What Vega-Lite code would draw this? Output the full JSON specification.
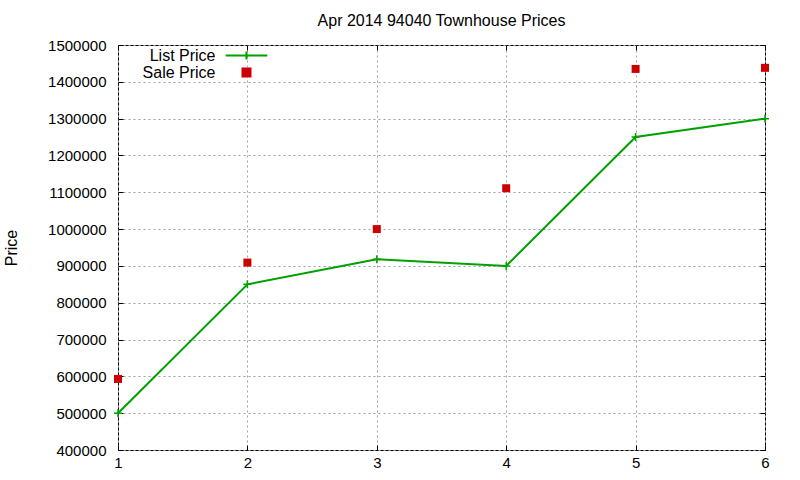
{
  "$schema": "https://vega.github.io/schema/vega-lite/v6.json",
  "description": "Apr 2014 94040 townhouse prices",
  "autosize": "none",
  "width": 647,
  "height": 405,
  "padding": {"left": 118, "top": 45, "right": 35, "bottom": 30},
  "title": {
    "text": "Apr 2014 94040 Townhouse Prices",
    "font": "Liberation Sans",
    "fontSize": 16,
    "fontWeight": "normal",
    "color": "black",
    "anchor": "middle",
    "offset": 9
  },
  "config": {
    "view": {"stroke": "black", "strokeWidth": 1},
    "axis": {
      "labelFont": "Liberation Sans",
      "labelFontSize": 15,
      "labelColor": "black",
      "labelFlush": false,
      "titleFont": "Liberation Sans",
      "titleFontSize": 16,
      "titleFontWeight": "normal",
      "titleColor": "black",
      "domain": false,
      "tickColor": "black",
      "tickSize": -5,
      "gridColor": "#a0a0a0",
      "gridDash": [2, 3],
      "gridWidth": 1
    }
  },
  "data": {
    "values": [
      {"x": 1, "price": 500000, "series": "List Price"},
      {"x": 2, "price": 850000, "series": "List Price"},
      {"x": 3, "price": 918000, "series": "List Price"},
      {"x": 4, "price": 900000, "series": "List Price"},
      {"x": 5, "price": 1250000, "series": "List Price"},
      {"x": 6, "price": 1300000, "series": "List Price"},
      {"x": 1, "price": 593000, "series": "Sale Price"},
      {"x": 2, "price": 909000, "series": "Sale Price"},
      {"x": 3, "price": 1000000, "series": "Sale Price"},
      {"x": 4, "price": 1111000, "series": "Sale Price"},
      {"x": 5, "price": 1435000, "series": "Sale Price"},
      {"x": 6, "price": 1438000, "series": "Sale Price"}
    ]
  },
  "layer": [
    {
      "transform": [{"filter": "datum.series == 'List Price'"}],
      "mark": {"type": "line", "color": "#00a000", "strokeWidth": 2},
      "encoding": {
        "x": {
          "field": "x", "type": "quantitative",
          "scale": {"domain": [1, 6], "nice": false, "zero": false},
          "axis": {"orient": "bottom", "title": null, "values": [1, 2, 3, 4, 5, 6], "format": "d", "labelPadding": 10, "grid": true}
        },
        "y": {
          "field": "price", "type": "quantitative",
          "scale": {"domain": [400000, 1500000], "nice": false, "zero": false},
          "axis": {
            "orient": "left", "title": "Price", "format": "d",
            "values": [400000, 500000, 600000, 700000, 800000, 900000, 1000000, 1100000, 1200000, 1300000, 1400000, 1500000],
            "labelPadding": 17, "titlePadding": 28, "grid": true
          }
        }
      }
    },
    {
      "transform": [{"filter": "datum.series == 'List Price'"}],
      "mark": {"type": "point", "shape": "M-1,0H1M0,-1V1", "size": 64, "opacity": 1, "filled": false, "color": "#00a000", "strokeWidth": 1.5},
      "encoding": {
        "x": {"field": "x", "type": "quantitative", "axis": null},
        "y": {"field": "price", "type": "quantitative", "axis": null}
      }
    },
    {
      "transform": [{"filter": "datum.series == 'Sale Price'"}],
      "mark": {"type": "square", "size": 64, "opacity": 1, "filled": true, "color": "#cc0000"},
      "encoding": {
        "x": {"field": "x", "type": "quantitative", "axis": null},
        "y": {"field": "price", "type": "quantitative", "axis": null}
      }
    },
    {
      "mark": {"type": "point", "opacity": 1, "strokeWidth": 1.5, "size": 1},
      "encoding": {
        "x": {
          "field": "x", "type": "quantitative",
          "axis": {"orient": "top", "title": null, "values": [1, 2, 3, 4, 5, 6], "labels": false, "grid": false}
        },
        "y": {
          "field": "price", "type": "quantitative",
          "axis": {
            "orient": "right", "title": null, "labels": false, "grid": false,
            "values": [400000, 500000, 600000, 700000, 800000, 900000, 1000000, 1100000, 1200000, 1300000, 1400000, 1500000]
          }
        },
        "shape": {
          "field": "series", "type": "nominal",
          "scale": {"domain": ["List Price", "Sale Price"], "range": ["M-2.6,0H2.6M0,-0.5V0.5", "M-0.5,-0.5H0.5V0.5H-0.5Z"]},
          "legend": {
            "title": null,
            "orient": "none",
            "legendX": 107,
            "legendY": 1.5,
            "padding": 0,
            "rowPadding": 0,
            "symbolSize": 256,
            "symbolStrokeWidth": 2,
            "symbolOffset": 12.5,
            "labelFont": "Liberation Sans",
            "labelFontSize": 16,
            "labelColor": "black",
            "labelAlign": "right",
            "labelOffset": -40
          }
        },
        "stroke": {
          "field": "series", "type": "nominal",
          "scale": {"domain": ["List Price", "Sale Price"], "range": ["#00a000", "#cc0000"]},
          "legend": {"title": null}
        },
        "fill": {
          "field": "series", "type": "nominal",
          "scale": {"domain": ["List Price", "Sale Price"], "range": ["transparent", "#cc0000"]},
          "legend": {"title": null}
        }
      }
    }
  ],
  "resolve": {"axis": {"x": "independent", "y": "independent"}}
}
